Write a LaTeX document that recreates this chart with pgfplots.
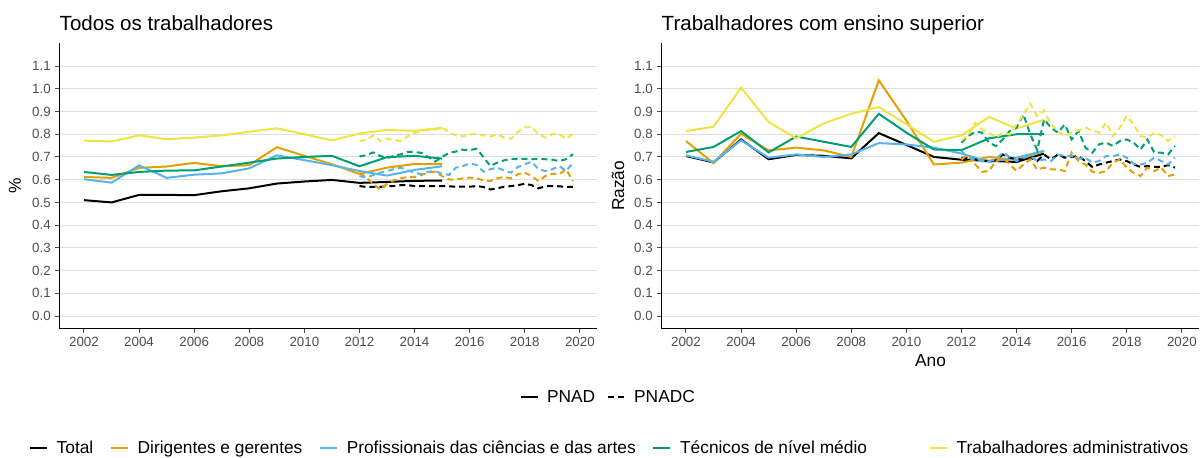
\documentclass[border=0pt]{standalone}
\usepackage{pgfplots}
\pgfplotsset{compat=1.18}
\usepackage{fontspec}
\setmainfont{Liberation Sans}
\definecolor{cTot}{HTML}{000000}
\definecolor{cDir}{HTML}{E69F00}
\definecolor{cPro}{HTML}{56B4E9}
\definecolor{cTec}{HTML}{009E73}
\definecolor{cAdm}{HTML}{F0E442}
\definecolor{gridgray}{RGB}{222,222,222}
\definecolor{tickgray}{RGB}{77,77,77}
\pgfplotsset{
  panel/.style={
    scale only axis, width=403.5pt, height=213.9pt,
    xmin=2001.11, xmax=2020.64, ymin=-0.055, ymax=1.20,
    axis lines=left, axis line style={-, line width=0.8pt, black},
    xtick={2002,2004,...,2020},
    ytick={0,0.1,0.2,0.3,0.4,0.5,0.6,0.7,0.8,0.9,1.0,1.1},
    ymajorgrids, grid style={line width=0.75pt, gridgray},
    tick align=outside, major tick length=3pt,
    tick style={line width=0.75pt, tickgray},
    ticklabel style={font=\fontsize{10}{12}\selectfont, text=tickgray},
    /pgf/number format/1000 sep={},
    yticklabel style={/pgf/number format/.cd, fixed, fixed zerofill, precision=1},
    /pgf/number format/assume math mode=true,
    label style={font=\fontsize{13}{15}\selectfont},
    legend image code/.code={\draw[#1, line width=1.5pt] (0pt,0pt) -- (12.75pt,0pt);},
    legend cell align=left,
    clip=false,
  },
  pnad/.style={line width=1.5pt, solid, forget plot},
  pnadc/.style={line width=1.5pt, dash pattern=on 4.5pt off 3pt, forget plot},
}
\begin{document}
\begin{tikzpicture}
\path[use as bounding box] (0pt,0pt) rectangle (900.75pt,-342.75pt);
% ---------------- left panel
\begin{axis}[panel, at={(44.6pt,-246.4pt)}, anchor=south west,
  ylabel={\%}, ylabel style={at={(axis description cs:-0.083,0.5)}, anchor=center},
  legend columns=2,
  legend style={at={(axis description cs:1.021,-0.241)}, anchor=center, draw=none, fill=none,
    font=\fontsize{13}{15}\selectfont,
    /tikz/every odd column/.append style={column sep=4pt},
    /tikz/every even column/.append style={column sep=7pt}},
]
\node[anchor=base west, inner sep=0pt, font=\fontsize{15.4}{18}\selectfont] at (rel axis cs:0,1.044) {Todos os trabalhadores};
\addplot[pnad, cTot] coordinates {(2002,0.510)(2003,0.500)(2004,0.533)(2005,0.533)(2006,0.532)(2007,0.549)(2008,0.562)(2009,0.583)(2010,0.592)(2011,0.599)(2012,0.586)(2013,0.590)(2014,0.595)(2015,0.596)};
\addplot[pnad, cDir] coordinates {(2002,0.612)(2003,0.608)(2004,0.652)(2005,0.658)(2006,0.674)(2007,0.659)(2008,0.664)(2009,0.743)(2010,0.705)(2011,0.668)(2012,0.625)(2013,0.653)(2014,0.669)(2015,0.669)};
\addplot[pnad, cPro] coordinates {(2002,0.602)(2003,0.587)(2004,0.663)(2005,0.608)(2006,0.622)(2007,0.628)(2008,0.650)(2009,0.707)(2010,0.686)(2011,0.664)(2012,0.638)(2013,0.618)(2014,0.643)(2015,0.659)};
\addplot[pnad, cTec] coordinates {(2002,0.634)(2003,0.621)(2004,0.634)(2005,0.640)(2006,0.641)(2007,0.658)(2008,0.675)(2009,0.693)(2010,0.700)(2011,0.705)(2012,0.659)(2013,0.699)(2014,0.705)(2015,0.693)};
\addplot[pnad, cAdm] coordinates {(2002,0.772)(2003,0.768)(2004,0.795)(2005,0.778)(2006,0.785)(2007,0.795)(2008,0.811)(2009,0.826)(2010,0.800)(2011,0.773)(2012,0.803)(2013,0.819)(2014,0.815)(2015,0.828)};
\addplot[pnadc, cTot] table[x=x, y=y] {
x y
2012.00 0.572
2012.25 0.568
2012.50 0.568
2012.75 0.568
2013.00 0.572
2013.25 0.572
2013.50 0.576
2013.75 0.576
2014.00 0.572
2014.25 0.572
2014.50 0.572
2014.75 0.572
2015.00 0.572
2015.25 0.571
2015.50 0.569
2015.75 0.569
2016.00 0.569
2016.25 0.572
2016.50 0.568
2016.75 0.557
2017.00 0.562
2017.25 0.569
2017.50 0.572
2017.75 0.576
2018.00 0.582
2018.25 0.576
2018.50 0.562
2018.75 0.571
2019.00 0.572
2019.25 0.571
2019.50 0.568
2019.75 0.568
};
\addplot[pnadc, cDir] table[x=x, y=y] {
x y
2012.00 0.631
2012.25 0.609
2012.50 0.582
2012.75 0.557
2013.00 0.582
2013.25 0.597
2013.50 0.606
2013.75 0.612
2014.00 0.612
2014.25 0.621
2014.50 0.631
2014.75 0.635
2015.00 0.616
2015.25 0.601
2015.50 0.600
2015.75 0.606
2016.00 0.609
2016.25 0.606
2016.50 0.597
2016.75 0.594
2017.00 0.606
2017.25 0.612
2017.50 0.606
2017.75 0.624
2018.00 0.631
2018.25 0.616
2018.50 0.594
2018.75 0.616
2019.00 0.626
2019.25 0.624
2019.50 0.646
2019.75 0.594
};
\addplot[pnadc, cPro] table[x=x, y=y] {
x y
2012.00 0.616
2012.25 0.609
2012.50 0.621
2012.75 0.631
2013.00 0.638
2013.25 0.646
2013.50 0.653
2013.75 0.641
2014.00 0.631
2014.25 0.624
2014.50 0.635
2014.75 0.638
2015.00 0.626
2015.25 0.621
2015.50 0.653
2015.75 0.660
2016.00 0.671
2016.25 0.665
2016.50 0.635
2016.75 0.646
2017.00 0.653
2017.25 0.641
2017.50 0.631
2017.75 0.656
2018.00 0.668
2018.25 0.679
2018.50 0.646
2018.75 0.638
2019.00 0.646
2019.25 0.660
2019.50 0.638
2019.75 0.675
};
\addplot[pnadc, cTec] table[x=x, y=y] {
x y
2012.00 0.702
2012.25 0.708
2012.50 0.720
2012.75 0.705
2013.00 0.695
2013.25 0.705
2013.50 0.712
2013.75 0.722
2014.00 0.722
2014.25 0.718
2014.50 0.700
2014.75 0.680
2015.00 0.700
2015.25 0.718
2015.50 0.724
2015.75 0.732
2016.00 0.730
2016.25 0.736
2016.50 0.700
2016.75 0.660
2017.00 0.675
2017.25 0.685
2017.50 0.692
2017.75 0.690
2018.00 0.692
2018.25 0.690
2018.50 0.690
2018.75 0.690
2019.00 0.688
2019.25 0.682
2019.50 0.690
2019.75 0.712
};
\addplot[pnadc, cAdm] table[x=x, y=y] {
x y
2012.00 0.770
2012.25 0.775
2012.50 0.795
2012.75 0.770
2013.00 0.780
2013.25 0.775
2013.50 0.770
2013.75 0.790
2014.00 0.805
2014.25 0.815
2014.50 0.820
2014.75 0.820
2015.00 0.828
2015.25 0.810
2015.50 0.795
2015.75 0.790
2016.00 0.800
2016.25 0.803
2016.50 0.795
2016.75 0.790
2017.00 0.800
2017.25 0.785
2017.50 0.780
2017.75 0.810
2018.00 0.830
2018.25 0.832
2018.50 0.800
2018.75 0.785
2019.00 0.800
2019.25 0.800
2019.50 0.780
2019.75 0.802
};
\addlegendimage{black, solid}
\addlegendentry{PNAD}
\addlegendimage{black, dash pattern=on 4.5pt off 3pt}
\addlegendentry{PNADC}
\end{axis}
% ---------------- right panel
\begin{axis}[panel, at={(496.1pt,-246.4pt)}, anchor=south west,
  ylabel={Razão}, ylabel style={at={(axis description cs:-0.081,0.5)}, anchor=center},
  xlabel={Ano}, xlabel style={at={(axis description cs:0.5,-0.114)}, anchor=center},
  legend columns=5,
  legend style={at={(axis description cs:-0.0957,-0.419)}, anchor=center, draw=none, fill=none,
    font=\fontsize{13}{15}\selectfont,
    /tikz/every odd column/.append style={column sep=4.5pt},
    /tikz/every even column/.append style={column sep=10.5pt}},
]
\node[anchor=base west, inner sep=0pt, font=\fontsize{15.4}{18}\selectfont] at (rel axis cs:0,1.044) {Trabalhadores com ensino superior};
\addplot[pnad, cTot] coordinates {(2002,0.704)(2003,0.676)(2004,0.777)(2005,0.690)(2006,0.709)(2007,0.705)(2008,0.694)(2009,0.805)(2010,0.753)(2011,0.700)(2012,0.688)(2013,0.683)(2014,0.678)(2015,0.715)};
\addplot[pnad, cDir] coordinates {(2002,0.770)(2003,0.673)(2004,0.802)(2005,0.729)(2006,0.741)(2007,0.729)(2008,0.700)(2009,1.037)(2010,0.860)(2011,0.667)(2012,0.675)(2013,0.700)(2014,0.686)(2015,0.727)};
\addplot[pnad, cPro] coordinates {(2002,0.707)(2003,0.679)(2004,0.773)(2005,0.697)(2006,0.711)(2007,0.700)(2008,0.711)(2009,0.761)(2010,0.755)(2011,0.741)(2012,0.715)(2013,0.678)(2014,0.697)(2015,0.727)};
\addplot[pnad, cTec] coordinates {(2002,0.722)(2003,0.744)(2004,0.814)(2005,0.720)(2006,0.790)(2007,0.767)(2008,0.744)(2009,0.890)(2010,0.807)(2011,0.733)(2012,0.730)(2013,0.782)(2014,0.800)(2015,0.800)};
\addplot[pnad, cAdm] coordinates {(2002,0.814)(2003,0.833)(2004,1.005)(2005,0.854)(2006,0.782)(2007,0.848)(2008,0.890)(2009,0.920)(2010,0.844)(2011,0.767)(2012,0.795)(2013,0.876)(2014,0.825)(2015,0.864)};
\addplot[pnadc, cTot] table[x=x, y=y] {
x y
2012.00 0.697
2012.25 0.694
2012.50 0.689
2012.75 0.682
2013.00 0.682
2013.25 0.685
2013.50 0.711
2013.75 0.697
2014.00 0.689
2014.25 0.689
2014.50 0.697
2014.75 0.682
2015.00 0.711
2015.25 0.689
2015.50 0.711
2015.75 0.697
2016.00 0.700
2016.25 0.704
2016.50 0.682
2016.75 0.656
2017.00 0.667
2017.25 0.675
2017.50 0.682
2017.75 0.689
2018.00 0.682
2018.25 0.667
2018.50 0.656
2018.75 0.660
2019.00 0.656
2019.25 0.656
2019.50 0.664
2019.75 0.653
};
\addplot[pnadc, cDir] table[x=x, y=y] {
x y
2012.00 0.689
2012.25 0.711
2012.50 0.667
2012.75 0.635
2013.00 0.638
2013.25 0.682
2013.50 0.697
2013.75 0.667
2014.00 0.638
2014.25 0.667
2014.50 0.689
2014.75 0.645
2015.00 0.653
2015.25 0.645
2015.50 0.645
2015.75 0.638
2016.00 0.719
2016.25 0.682
2016.50 0.667
2016.75 0.635
2017.00 0.630
2017.25 0.638
2017.50 0.675
2017.75 0.689
2018.00 0.653
2018.25 0.630
2018.50 0.616
2018.75 0.653
2019.00 0.638
2019.25 0.653
2019.50 0.616
2019.75 0.623
};
\addplot[pnadc, cPro] table[x=x, y=y] {
x y
2012.00 0.726
2012.25 0.697
2012.50 0.689
2012.75 0.682
2013.00 0.682
2013.25 0.689
2013.50 0.719
2013.75 0.700
2014.00 0.682
2014.25 0.697
2014.50 0.704
2014.75 0.682
2015.00 0.689
2015.25 0.682
2015.50 0.711
2015.75 0.704
2016.00 0.704
2016.25 0.692
2016.50 0.697
2016.75 0.675
2017.00 0.682
2017.25 0.704
2017.50 0.704
2017.75 0.711
2018.00 0.697
2018.25 0.670
2018.50 0.667
2018.75 0.675
2019.00 0.697
2019.25 0.682
2019.50 0.667
2019.75 0.697
};
\addplot[pnadc, cTec] table[x=x, y=y] {
x y
2012.00 0.763
2012.25 0.792
2012.50 0.811
2012.75 0.807
2013.00 0.763
2013.25 0.748
2013.50 0.777
2013.75 0.814
2014.00 0.829
2014.25 0.887
2014.50 0.800
2014.75 0.730
2015.00 0.865
2015.25 0.829
2015.50 0.807
2015.75 0.843
2016.00 0.777
2016.25 0.814
2016.50 0.741
2016.75 0.719
2017.00 0.756
2017.25 0.763
2017.50 0.748
2017.75 0.770
2018.00 0.777
2018.25 0.763
2018.50 0.733
2018.75 0.777
2019.00 0.719
2019.25 0.719
2019.50 0.711
2019.75 0.748
};
\addplot[pnadc, cAdm] table[x=x, y=y] {
x y
2012.00 0.773
2012.25 0.796
2012.50 0.850
2012.75 0.821
2013.00 0.807
2013.25 0.785
2013.50 0.807
2013.75 0.799
2014.00 0.843
2014.25 0.887
2014.50 0.934
2014.75 0.880
2015.00 0.905
2015.25 0.843
2015.50 0.814
2015.75 0.792
2016.00 0.807
2016.25 0.817
2016.50 0.829
2016.75 0.817
2017.00 0.807
2017.25 0.851
2017.50 0.792
2017.75 0.829
2018.00 0.880
2018.25 0.843
2018.50 0.792
2018.75 0.785
2019.00 0.807
2019.25 0.796
2019.50 0.770
2019.75 0.792
};
\addlegendimage{cTot}
\addlegendentry{Total}
\addlegendimage{cDir}
\addlegendentry{Dirigentes e gerentes}
\addlegendimage{cPro}
\addlegendentry{Profissionais das ciências e das artes}
\addlegendimage{cTec}
\addlegendentry{Técnicos de nível médio\hspace*{34pt}}
\addlegendimage{cAdm}
\addlegendentry{Trabalhadores administrativos}
\end{axis}
\end{tikzpicture}
\end{document}
